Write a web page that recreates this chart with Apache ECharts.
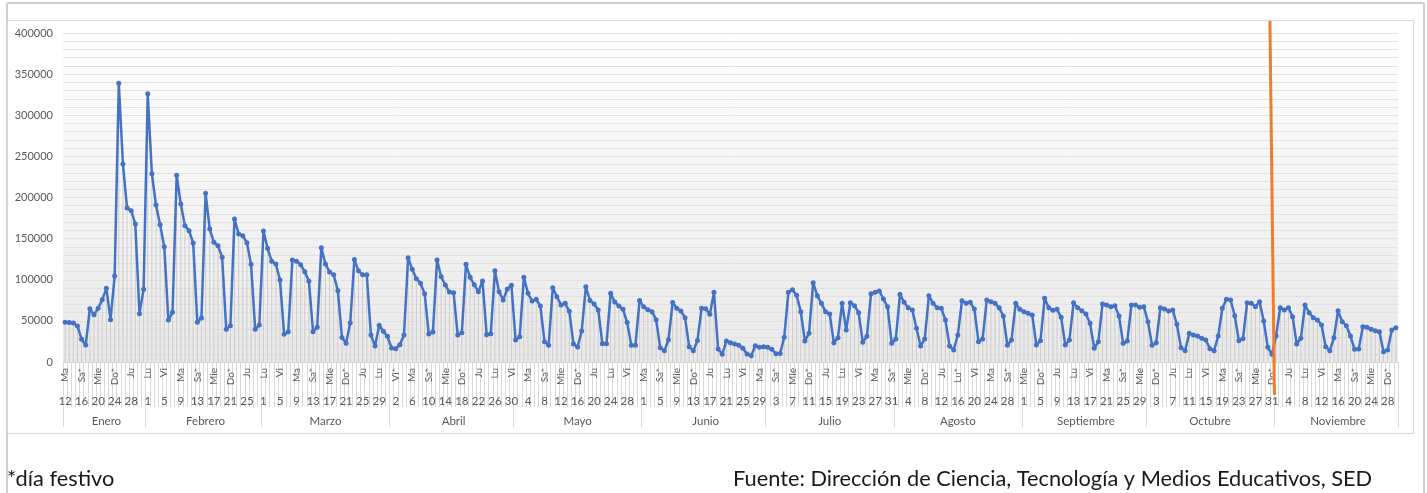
<!DOCTYPE html>
<html>
<head>
<meta charset="utf-8">
<title>Conexiones diarias 2021</title>
<script src="https://cdn.jsdelivr.net/npm/echarts@6/dist/echarts.min.js"></script>
<style>
  html, body { margin: 0; padding: 0; background: #fff; }
  #main { width: 1427px; height: 493px; }
</style>
</head>
<body>
<div id="main"></div>
<script>
// la serie arranca el martes 12 de enero de 2021
var inicio = [2021, 0, 12];
var meses = ['Enero', 'Febrero', 'Marzo', 'Abril', 'Mayo', 'Junio', 'Julio',
  'Agosto', 'Septiembre', 'Octubre', 'Noviembre', 'Diciembre'];
var diasSemana = ['Do', 'Lu', 'Ma', 'Mie', 'Ju', 'Vi', 'Sa'];
// festivos entre semana (sábados y domingos llevan * siempre)
var festivos = ['2021-03-22', '2021-04-01', '2021-04-02', '2021-05-17', '2021-06-07',
  '2021-06-14', '2021-07-05', '2021-07-20', '2021-08-16', '2021-10-18',
  '2021-11-01', '2021-11-15'];
var yTicks = [0, 50000, 100000, 150000, 200000, 250000, 300000, 350000, 400000];

// valores diarios por mes
var enero = [48300, 48000, 47500, 43800, 27600, 20700, 64800, 57500, 65300, 75800,
  89600, 51500, 104600, 338800, 240700, 187200, 184000, 167800, 58700, 88300];
var febrero = [326200, 229000, 190900, 167000, 140200, 51100, 60400, 227000, 192100, 165800,
  159700, 144700, 48300, 53500, 205100, 161700, 145500, 141400, 127300, 39700,
  44200, 173900, 155600, 153600, 145100, 118700, 39700, 45000];
var marzo = [159300, 138200, 122400, 119100, 99700, 33600, 36800, 124000, 122400, 118300,
  109800, 98100, 36800, 42200, 138800, 119000, 109500, 106000, 86700, 29800,
  22700, 47800, 124500, 110800, 106200, 106200, 32800, 19500, 44600, 37300, 31200];
var abril = [17000, 16200, 21000, 32800, 126800, 112700, 101300, 95700, 83000, 34000,
  36500, 124000, 103700, 93600, 85100, 84300, 32800, 35600, 118700, 103000,
  94000, 85500, 98500, 33200, 34400, 111000, 85500, 75400, 88800, 93200];
var mayo = [26700, 30800, 103000, 83500, 74200, 76200, 68100, 24700, 20300, 90300,
  79400, 69300, 71400, 61600, 21900, 18200, 37700, 91500, 74800, 70500,
  63200, 22300, 22300, 83500, 72800, 68100, 64000, 48000, 20500, 20500, 74800];
var junio = [67300, 63600, 61200, 51500, 17400, 13600, 27100, 72300, 65300, 62000,
  53900, 18600, 13800, 26000, 65300, 64800, 58000, 84700, 15800, 9400,
  25500, 23500, 21900, 20300, 16700, 9700, 7700, 19800, 17800, 18600];
var julio = [17800, 15400, 10100, 10300, 30000, 84700, 87900, 81100, 61200, 25500,
  34900, 96400, 80600, 71400, 61200, 58400, 23500, 29500, 71400, 38900,
  72100, 68500, 59900, 24000, 31200, 83100, 84700, 86300, 76600, 67300, 22700];
var agosto = [28000, 82300, 72600, 66000, 63200, 41000, 19500, 28000, 80600, 71400,
  66000, 65300, 51100, 19500, 14600, 32800, 74600, 71400, 72600, 64400,
  24700, 28000, 75400, 73300, 71400, 66000, 55900, 20300, 26700, 71400, 64000];
var septiembre = [61200, 59200, 57100, 20700, 25900, 77400, 66000, 62800, 64000, 54300,
  20700, 26700, 72100, 66000, 62400, 58400, 47000, 16700, 24700, 70500,
  69300, 67300, 68500, 55900, 22700, 25500, 69300, 69300, 66500, 67300];
var octubre = [49000, 20300, 23500, 66000, 64400, 62000, 63200, 45800, 17400, 13800,
  34900, 32800, 31600, 28800, 26700, 16200, 13800, 31600, 65300, 76200,
  75400, 56300, 25900, 28300, 72100, 71400, 67300, 73300, 49800, 17800, 9400];
var noviembre = [31600, 66000, 63200, 66000, 55100, 21900, 28800, 69300, 59900, 53900,
  51100, 45000, 18600, 13800, 29500, 62400, 49000, 44200, 31600, 15400,
  15800, 42900, 42200, 39700, 38100, 36800, 12500, 14600, 38900, 41700];

var valores = [].concat(enero, febrero, marzo, abril, mayo, junio, julio,
  agosto, septiembre, octubre, noviembre);

// categorías: una fecha por valor
var fechas = [];
for (var i = 0; i < valores.length; i++) {
  var d = new Date(Date.UTC(inicio[0], inicio[1], inicio[2] + i));
  fechas.push(d.toISOString().slice(0, 10));
}

// índices de inicio y mitad de cada mes (para el tercer nivel del eje)
var inicioMes = {0: true};
var mitadMes = {};
var ini = 0;
for (var k = 1; k <= fechas.length; k++) {
  if (k === fechas.length || fechas[k].slice(5, 7) !== fechas[k - 1].slice(5, 7)) {
    mitadMes[Math.round((ini + k - 1) / 2)] = true;
    if (k < fechas.length) inicioMes[k] = true;
    ini = k;
  }
}

function etiquetaSemana(f) {
  var d = new Date(f + 'T00:00:00Z');
  var dia = d.getUTCDay();
  var fest = dia === 0 || dia === 6 || festivos.indexOf(f) >= 0;
  return diasSemana[dia] + (fest ? '*' : '');
}

var fuente = 'Lato, "Open Sans", sans-serif';
var gris = '#595959';
var lineaGris = '#d9d9d9';

var chart = echarts.init(document.getElementById('main'));

var caja = {left: 63, right: 29, top: 33, bottom: 131};

function ejeBase(grid) {
  return {
    gridIndex: grid,
    type: 'category',
    data: fechas,
    boundaryGap: true,
    axisLine: {show: false},
    axisTick: {show: false},
    splitLine: {show: false},
    axisLabel: {show: false}
  };
}

var ejeSemana = ejeBase(0);
ejeSemana.axisLine = {show: true, lineStyle: {color: lineaGris, width: 1}};
ejeSemana.axisTick = {show: true, interval: 0, length: 45, lineStyle: {color: lineaGris, width: 1}};
ejeSemana.axisLabel = {
  show: true, interval: 3, rotate: 90, margin: 6, fontSize: 10,
  color: gris, fontFamily: fuente, formatter: etiquetaSemana
};

var ejeDia = ejeBase(1);
ejeDia.axisLabel = {
  show: true, interval: 3, margin: 33, fontSize: 11.5, color: gris, fontFamily: fuente,
  formatter: function (f) { return String(parseInt(f.slice(8, 10), 10)); }
};

var ejeMes = ejeBase(2);
ejeMes.axisTick = {
  show: true, length: 65, lineStyle: {color: lineaGris, width: 1},
  interval: function (idx) { return !!inicioMes[idx]; }
};
ejeMes.axisLabel = {
  show: true, margin: 53, fontSize: 11.5, color: gris, fontFamily: fuente,
  interval: function (idx) { return !!mitadMes[idx]; },
  formatter: function (f) { return meses[parseInt(f.slice(5, 7), 10) - 1]; }
};

var option = {
  animation: false,
  backgroundColor: '#ffffff',
  title: [
    {
      text: '*día festivo', left: 7, top: 468, padding: 0,
      textStyle: {fontSize: 21.8, fontWeight: 'normal', color: '#1a1a1a', fontFamily: fuente}
    },
    {
      text: 'Fuente: Dirección de Ciencia, Tecnología y Medios Educativos, SED',
      left: 733, top: 468, padding: 0,
      textStyle: {fontSize: 21.8, fontWeight: 'normal', color: '#1a1a1a', fontFamily: fuente}
    }
  ],
  grid: [
    {
      left: caja.left, right: caja.right, top: caja.top, bottom: caja.bottom,
      show: true, borderWidth: 0,
      backgroundColor: new echarts.graphic.LinearGradient(0, 0, 0, 1, [
        {offset: 0, color: '#ffffff'},
        {offset: 1, color: '#e9e9e9'}
      ])
    },
    {left: caja.left, right: caja.right, top: caja.top, bottom: caja.bottom},
    {left: caja.left, right: caja.right, top: caja.top, bottom: caja.bottom}
  ],
  xAxis: [ejeSemana, ejeDia, ejeMes],
  yAxis: [
    {
      gridIndex: 0, type: 'value', min: yTicks[0], max: yTicks[yTicks.length - 1],
      interval: yTicks[1] - yTicks[0],
      axisLine: {show: false}, axisTick: {show: false},
      axisLabel: {
        margin: 10, fontSize: 11, color: gris, fontFamily: fuente,
        formatter: function (v) { return String(v); }
      },
      splitLine: {lineStyle: {color: '#e2e2e2', width: 1}},
      minorTick: {show: false, splitNumber: 5},
      minorSplitLine: {show: true, lineStyle: {color: '#e2e2e2', width: 1}}
    },
    {gridIndex: 1, type: 'value', show: false, min: 0, max: 400000},
    {gridIndex: 2, type: 'value', show: false, min: 0, max: 400000}
  ],
  series: [
    {
      // líneas de unión hasta el eje
      type: 'bar', xAxisIndex: 0, yAxisIndex: 0, data: valores,
      barWidth: 1, silent: true, z: 1,
      itemStyle: {color: '#cdcdcd'}
    },
    {
      type: 'line', xAxisIndex: 0, yAxisIndex: 0, data: valores,
      symbol: 'circle', symbolSize: 5, showAllSymbol: true, z: 3,
      lineStyle: {color: '#4472c4', width: 2.5},
      itemStyle: {color: '#4472c4'}
    }
  ],
  graphic: [
    {id: 'bordeSup', type: 'line', shape: {x1: 7, y1: 3, x2: 1424, y2: 3},
      style: {stroke: '#cfcfcf', lineWidth: 2}, silent: true},
    {id: 'bordeIzq', type: 'line', shape: {x1: 7, y1: 3, x2: 7, y2: 493},
      style: {stroke: '#cfcfcf', lineWidth: 2}, silent: true},
    {id: 'bordeDer', type: 'line', shape: {x1: 1424, y1: 3, x2: 1424, y2: 493},
      style: {stroke: '#cfcfcf', lineWidth: 2}, silent: true},
    {id: 'cajaGrafico', type: 'rect', shape: {x: 7.5, y: 20.5, width: 1406, height: 413},
      style: {fill: null, stroke: '#d9d9d9', lineWidth: 1}, silent: true}
  ]
};

chart.setOption(option);

// línea naranja marcando el 31 de octubre
var xCorte = chart.convertToPixel({xAxisIndex: 0}, '2021-10-31');
chart.setOption({
  graphic: [
    {id: 'corte', type: 'line', z: 100,
      shape: {x1: xCorte - 2, y1: 21, x2: xCorte + 2.5, y2: 395},
      style: {stroke: '#ed7d31', lineWidth: 3}, silent: true}
  ]
});
</script>
</body>
</html>
